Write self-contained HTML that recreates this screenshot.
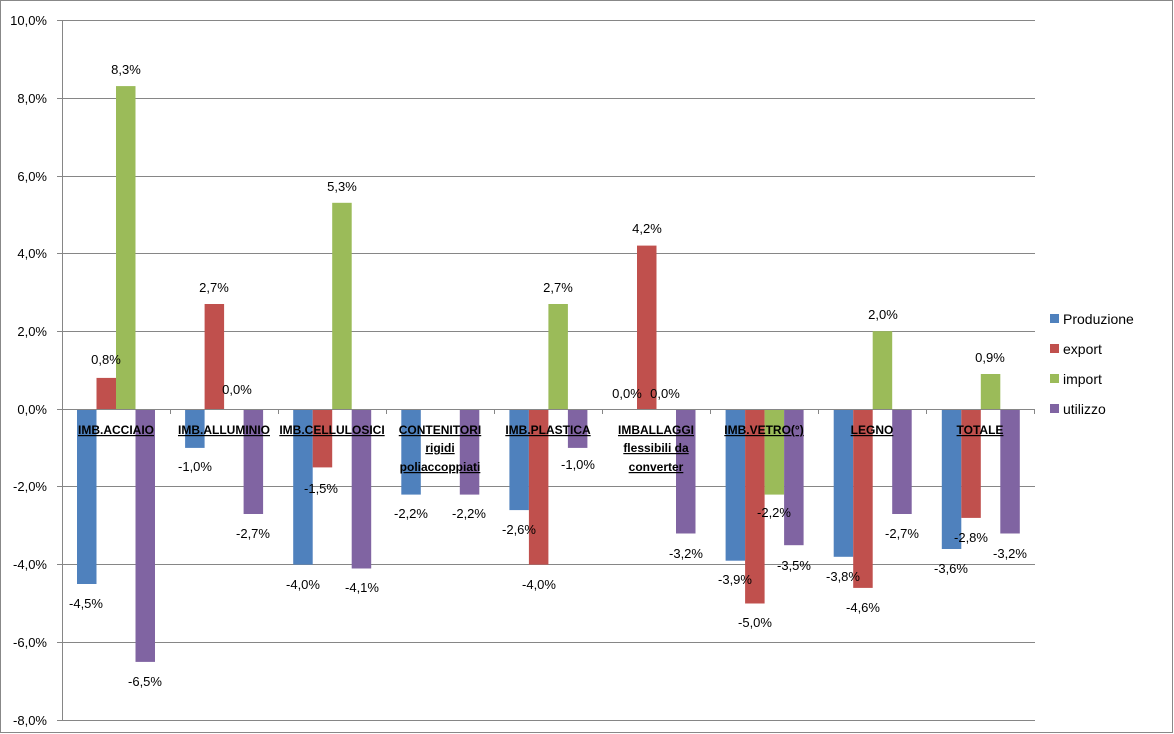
<!DOCTYPE html>
<html><head><meta charset="utf-8"><style>
body{margin:0;background:#fff}
svg{display:block;font-family:"Liberation Sans",sans-serif}
.v{font-size:13px;fill:#000;text-anchor:middle}
.c{font-size:12px;font-weight:bold;text-anchor:middle;text-decoration:underline}
.t{font-size:13px;text-anchor:end}
.l{font-size:14px}
</style></head><body>
<svg width="1174" height="734" viewBox="0 0 1174 734">
<rect x="0.5" y="0.5" width="1172" height="732" fill="#fff" stroke="#888"/>
<g stroke="#868686" stroke-width="1">
<line x1="62" y1="20.5" x2="1035" y2="20.5"/><line x1="62" y1="98.5" x2="1035" y2="98.5"/>
<line x1="62" y1="176.5" x2="1035" y2="176.5"/><line x1="62" y1="253.5" x2="1035" y2="253.5"/>
<line x1="62" y1="331.5" x2="1035" y2="331.5"/><line x1="62" y1="486.5" x2="1035" y2="486.5"/>
<line x1="62" y1="564.5" x2="1035" y2="564.5"/><line x1="62" y1="642.5" x2="1035" y2="642.5"/>
<line x1="62" y1="720.5" x2="1035" y2="720.5"/>
<line x1="62.5" y1="20" x2="62.5" y2="720"/>
<line x1="57" y1="20.5" x2="62" y2="20.5"/><line x1="57" y1="98.5" x2="62" y2="98.5"/><line x1="57" y1="176.5" x2="62" y2="176.5"/><line x1="57" y1="253.5" x2="62" y2="253.5"/><line x1="57" y1="331.5" x2="62" y2="331.5"/><line x1="57" y1="409.5" x2="62" y2="409.5"/><line x1="57" y1="486.5" x2="62" y2="486.5"/><line x1="57" y1="564.5" x2="62" y2="564.5"/><line x1="57" y1="642.5" x2="62" y2="642.5"/><line x1="57" y1="720.5" x2="62" y2="720.5"/>
</g>
<g class="t">
<text x="47" y="25">10,0%</text><text x="47" y="103">8,0%</text><text x="47" y="181">6,0%</text><text x="47" y="258">4,0%</text><text x="47" y="336">2,0%</text><text x="47" y="414">0,0%</text><text x="47" y="491">-2,0%</text><text x="47" y="569">-4,0%</text><text x="47" y="647">-6,0%</text><text x="47" y="725">-8,0%</text>
</g>
<g>
<g fill="#4F81BD">
<rect x="77" y="409" width="19.5" height="175"/><rect x="185.1" y="409" width="19.5" height="38.9"/><rect x="293.2" y="409" width="19.5" height="155.6"/><rect x="401.3" y="409" width="19.5" height="85.6"/><rect x="509.4" y="409" width="19.5" height="101.1"/><rect x="725.6" y="409" width="19.5" height="151.7"/><rect x="833.7" y="409" width="19.5" height="147.8"/><rect x="941.8" y="409" width="19.5" height="140"/>
</g>
<g fill="#C0504D">
<rect x="96.5" y="377.9" width="19.5" height="31.1"/><rect x="204.6" y="304" width="19.5" height="105"/><rect x="312.7" y="409" width="19.5" height="58.4"/><rect x="528.9" y="409" width="19.5" height="155.6"/><rect x="637" y="245.6" width="19.5" height="163.4"/><rect x="745.1" y="409" width="19.5" height="194.5"/><rect x="853.2" y="409" width="19.5" height="178.9"/><rect x="961.3" y="409" width="19.5" height="108.9"/>
</g>
<g fill="#9BBB59">
<rect x="116" y="86.1" width="19.5" height="322.9"/><rect x="332.2" y="202.8" width="19.5" height="206.2"/><rect x="548.4" y="304" width="19.5" height="105"/><rect x="764.6" y="409" width="19.5" height="85.6"/><rect x="872.7" y="331.2" width="19.5" height="77.8"/><rect x="980.8" y="374" width="19.5" height="35"/>
</g>
<g fill="#8064A2">
<rect x="135.5" y="409" width="19.5" height="252.9"/><rect x="243.6" y="409" width="19.5" height="105"/><rect x="351.7" y="409" width="19.5" height="159.5"/><rect x="459.8" y="409" width="19.5" height="85.6"/><rect x="567.9" y="409" width="19.5" height="38.9"/><rect x="676" y="409" width="19.5" height="124.5"/><rect x="784.1" y="409" width="19.5" height="136.2"/><rect x="892.2" y="409" width="19.5" height="105"/><rect x="1000.3" y="409" width="19.5" height="124.5"/>
</g>
</g>
<g stroke="#868686">
<line x1="62" y1="409.5" x2="1035" y2="409.5"/>
<line x1="170.5" y1="409" x2="170.5" y2="414"/><line x1="278.5" y1="409" x2="278.5" y2="414"/><line x1="386.5" y1="409" x2="386.5" y2="414"/><line x1="494.5" y1="409" x2="494.5" y2="414"/><line x1="602.5" y1="409" x2="602.5" y2="414"/><line x1="710.5" y1="409" x2="710.5" y2="414"/><line x1="818.5" y1="409" x2="818.5" y2="414"/><line x1="926.5" y1="409" x2="926.5" y2="414"/><line x1="1034.5" y1="409" x2="1034.5" y2="414"/>
</g>
<g class="c">
<text x="116" y="434">IMB.ACCIAIO</text>
<text x="224" y="434">IMB.ALLUMINIO</text>
<text x="332" y="434">IMB.CELLULOSICI</text>
<text x="440" y="434">CONTENITORI</text><text x="440" y="452">rigidi</text><text x="440" y="471">poliaccoppiati</text>
<text x="548" y="434">IMB.PLASTICA</text>
<text x="656" y="434">IMBALLAGGI</text><text x="656" y="452">flessibili da</text><text x="656" y="471">converter</text>
<text x="764" y="434">IMB.VETRO(°)</text>
<text x="872" y="434">LEGNO</text>
<text x="980" y="434">TOTALE</text>
</g>
<g class="v">
<text x="86" y="608">-4,5%</text><text x="106" y="364">0,8%</text><text x="126" y="74">8,3%</text><text x="145" y="686">-6,5%</text>
<text x="195" y="471">-1,0%</text><text x="214" y="292">2,7%</text><text x="237" y="394">0,0%</text><text x="253" y="538">-2,7%</text>
<text x="303" y="589">-4,0%</text><text x="321" y="493">-1,5%</text><text x="342" y="191">5,3%</text><text x="362" y="592">-4,1%</text>
<text x="411" y="518">-2,2%</text><text x="469" y="518">-2,2%</text>
<text x="519" y="534">-2,6%</text><text x="539" y="589">-4,0%</text><text x="558" y="292">2,7%</text><text x="578" y="469">-1,0%</text>
<text x="627" y="398">0,0%</text><text x="647" y="233">4,2%</text><text x="665" y="398">0,0%</text><text x="686" y="558">-3,2%</text>
<text x="735" y="584">-3,9%</text><text x="755" y="627">-5,0%</text><text x="774" y="517">-2,2%</text><text x="794" y="570">-3,5%</text>
<text x="843" y="581">-3,8%</text><text x="863" y="612">-4,6%</text><text x="883" y="319">2,0%</text><text x="902" y="538">-2,7%</text>
<text x="951" y="573">-3,6%</text><text x="971" y="542">-2,8%</text><text x="990" y="362">0,9%</text><text x="1010" y="558">-3,2%</text>
</g>
<g class="l">
<rect x="1050" y="314" width="9" height="9" fill="#4F81BD"/><text x="1063" y="324">Produzione</text>
<rect x="1050" y="344" width="9" height="9" fill="#C0504D"/><text x="1063" y="354">export</text>
<rect x="1050" y="374" width="9" height="9" fill="#9BBB59"/><text x="1063" y="384">import</text>
<rect x="1050" y="404" width="9" height="9" fill="#8064A2"/><text x="1063" y="414">utilizzo</text>
</g>
</svg>
</body></html>
